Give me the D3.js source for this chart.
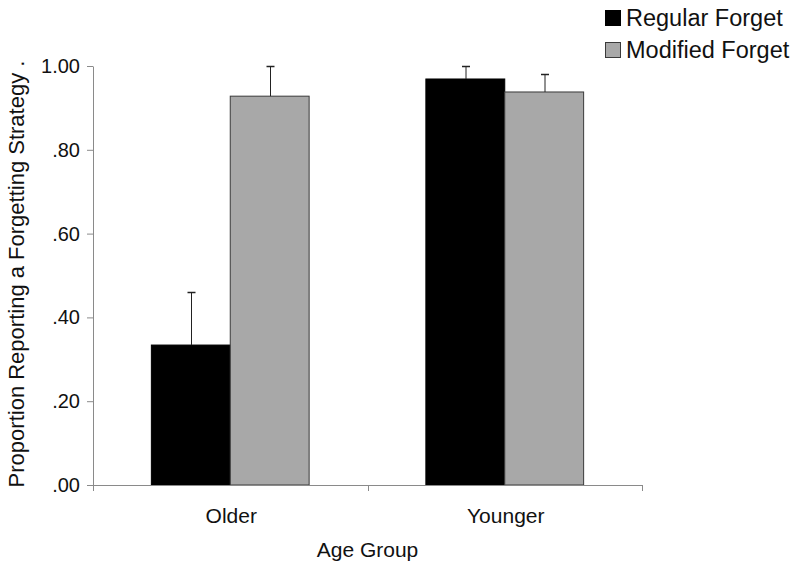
<!DOCTYPE html>
<html><head><meta charset="utf-8">
<script src="https://cdn.jsdelivr.net/npm/d3@7"></script>
<style>body{margin:0;background:#fff}svg{display:block;font-family:"Liberation Sans",Arial,sans-serif}</style>
</head><body>
<svg id="c" width="800" height="567"></svg>
<script>
const categories = ["Older", "Younger"];
const seriesNames = ["Regular Forget", "Modified Forget"];
const regularValues = [0.334, 0.969];
const modifiedValues = [0.928, 0.938];
const regularErrors = [0.127, 0.031];
const modifiedErrors = [0.072, 0.043];
const yTicks = [0, 0.2, 0.4, 0.6, 0.8, 1.0];
const yTickLabels = [".00", ".20", ".40", ".60", ".80", "1.00"];
const colors = ["#000000", "#a8a8a8"];

const svg = d3.select("#c");
const mLeft = 93, mRight = 642, mTop = 66, mBottom = 485;
const x0 = d3.scaleBand().domain(categories).range([mLeft, mRight]).paddingInner(0).paddingOuter(0);
const x1 = d3.scaleBand().domain(seriesNames).range([0, x0.bandwidth()]).paddingInner(0).paddingOuter(0.74);
const y = d3.scaleLinear().domain([0, 1]).range([mBottom, mTop]);

const data = categories.map((c, i) => ({
  cat: c,
  vals: [
    {s: seriesNames[0], v: regularValues[i], e: regularErrors[i], color: colors[0]},
    {s: seriesNames[1], v: modifiedValues[i], e: modifiedErrors[i], color: colors[1]}
  ]
}));

// bars
const g = svg.append("g");
const groups = g.selectAll("g.grp").data(data).join("g").attr("class", "grp")
  .attr("transform", d => `translate(${x0(d.cat)},0)`);
groups.selectAll("rect").data(d => d.vals).join("rect")
  .attr("x", d => x1(d.s))
  .attr("y", d => y(d.v))
  .attr("width", x1.bandwidth())
  .attr("height", d => y(0) - y(d.v))
  .attr("fill", d => d.color)
  .attr("stroke", d => d.color === "#000000" ? "#000" : "#3a3a3a")
  .attr("stroke-width", 1);

// error bars (upper only)
groups.selectAll("g.err").data(d => d.vals).join("g").attr("class", "err").each(function(d) {
  const cx = Math.round(x1(d.s) + x1.bandwidth() / 2) + 0.5;
  const e = d3.select(this);
  const ty = Math.round(y(d.v + d.e)) + 0.5;
  e.append("line").attr("x1", cx).attr("x2", cx).attr("y1", y(d.v)).attr("y2", ty)
    .attr("stroke", "#222").attr("stroke-width", 1);
  e.append("line").attr("x1", cx - 4).attr("x2", cx + 4).attr("y1", ty).attr("y2", ty)
    .attr("stroke", "#222").attr("stroke-width", 1.5);
});

// y axis
const yAxis = d3.axisLeft(y).tickValues(yTicks).tickFormat((d, i) => yTickLabels[i]).tickSize(6).tickSizeOuter(0);
const ya = svg.append("g").attr("transform", `translate(${mLeft},0)`).call(yAxis);
ya.select(".domain").attr("stroke", "#8a8a8a");
ya.selectAll(".tick line").attr("stroke", "#8a8a8a");
ya.selectAll(".tick text").attr("font-size", 20).attr("fill", "#111").attr("font-family", "Liberation Sans, Arial, sans-serif").attr("x", -13);

// x axis
const xa = svg.append("g").attr("transform", `translate(0,${mBottom})`);
xa.append("line").attr("x1", mLeft).attr("x2", mRight).attr("y1", 0.5).attr("y2", 0.5).attr("stroke", "#8a8a8a");
const sepTicks = [mLeft, ...categories.slice(1).map(c => x0(c)), mRight];
xa.selectAll("line.t").data(sepTicks).join("line").attr("class", "t")
  .attr("x1", d => Math.round(d) + 0.5).attr("x2", d => Math.round(d) + 0.5).attr("y1", 0).attr("y2", 6).attr("stroke", "#8a8a8a");
xa.selectAll("text").data(categories).join("text")
  .attr("x", d => x0(d) + x0.bandwidth() / 2 + 1).attr("y", 38)
  .attr("text-anchor", "middle").attr("font-size", 21).attr("fill", "#111").text(d => d);

// axis titles
svg.append("text").attr("x", (mLeft + mRight) / 2).attr("y", 557).attr("text-anchor", "middle")
  .attr("font-size", 21).attr("fill", "#111").text("Age Group");
svg.append("text").attr("transform", `translate(24,${274}) rotate(-90)`).attr("text-anchor", "middle")
  .attr("font-size", 22).attr("fill", "#111").text("Proportion Reporting a Forgetting Strategy .");

// legend
const leg = svg.append("g");
seriesNames.forEach((s, i) => {
  const yy = 10 + i * 32;
  leg.append("rect").attr("x", 605.5).attr("y", yy + 0.5).attr("width", 15).attr("height", 15)
    .attr("fill", colors[i]).attr("stroke", i === 0 ? "#000" : "#3a3a3a");
  leg.append("text").attr("x", 626).attr("y", yy + 16).attr("font-size", 23.5).attr("fill", "#111").text(s);
});
</script>
</body></html>
